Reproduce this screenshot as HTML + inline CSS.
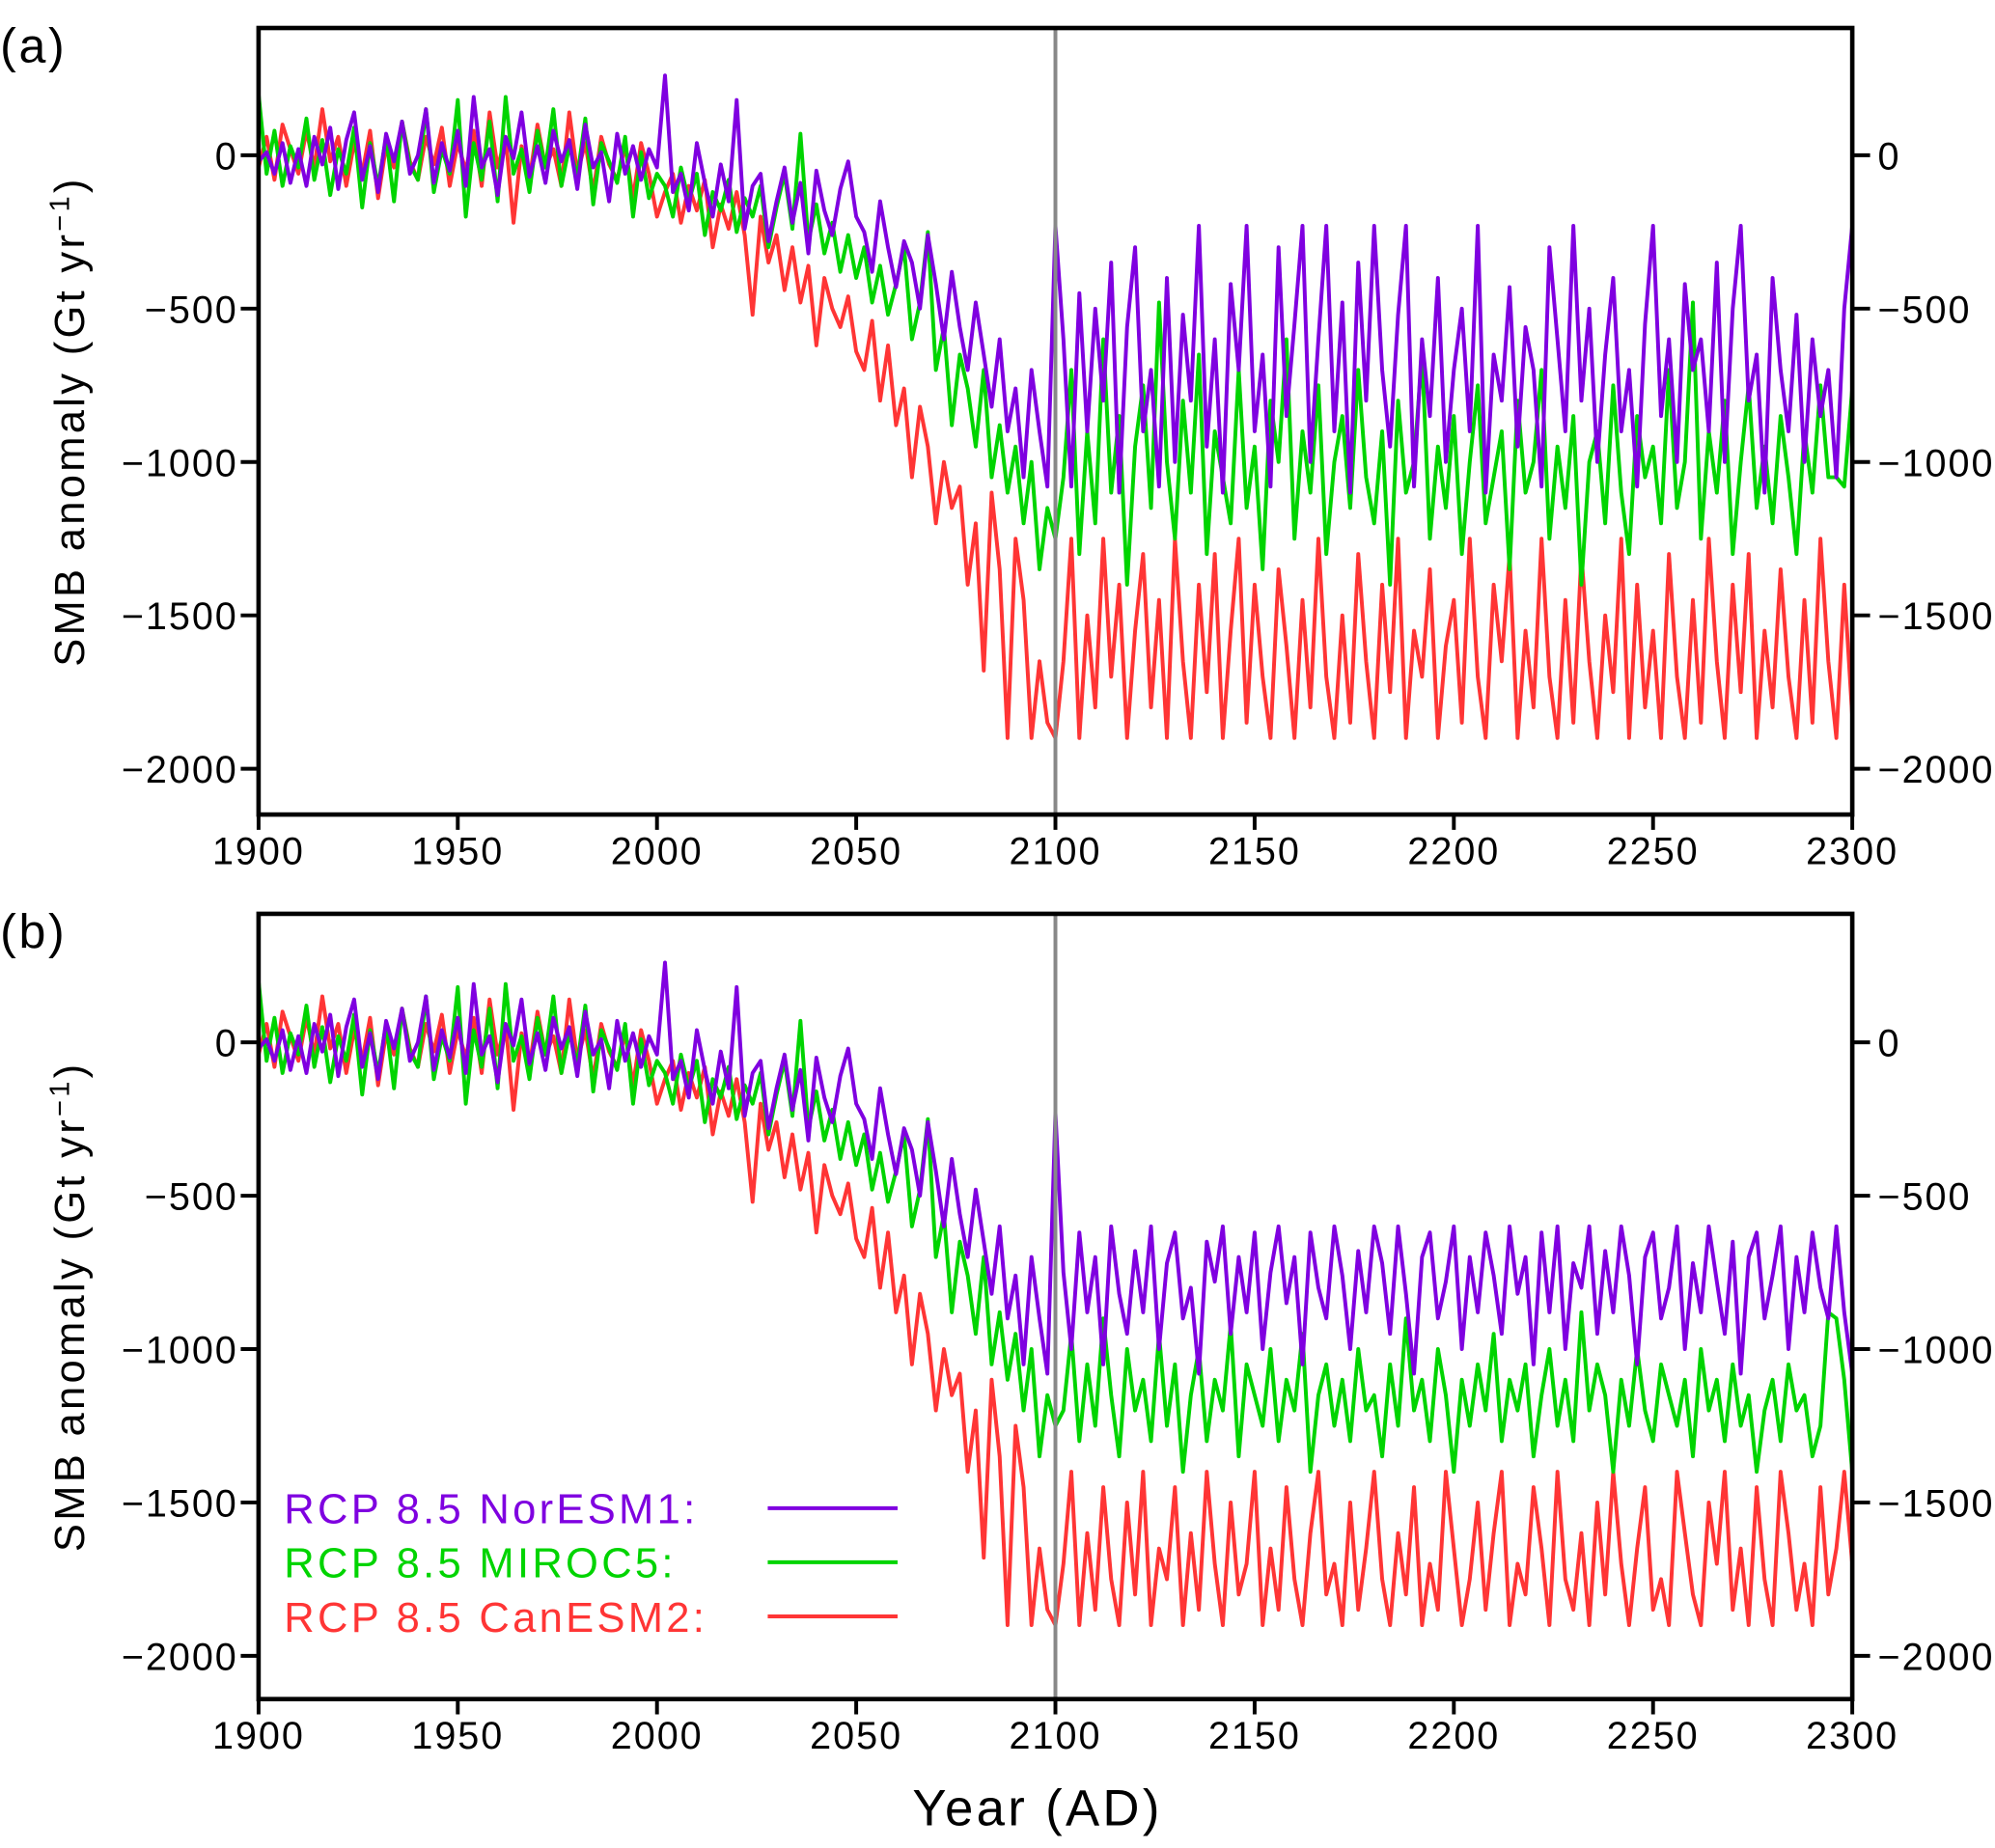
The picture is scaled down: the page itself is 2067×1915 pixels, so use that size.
<!DOCTYPE html>
<html><head><meta charset="utf-8"><style>
html,body{margin:0;padding:0;background:#fff}
svg{display:block}
text{font-family:"Liberation Sans","DejaVu Sans",sans-serif}
</style></head><body>
<svg id="fig" width="2067" height="1915" viewBox="0 0 1567 1452" xmlns="http://www.w3.org/2000/svg"></svg>
<script>
const yearsHistStart = 1900, yearsPostStart = 2102, yearStep = 2;
const xTicks = [1900,1950,2000,2050,2100,2150,2200,2250,2300];
const yTicks = [0,-500,-1000,-1500,-2000];
const seriesNames = ["NorESM1","MIROC5","CanESM2"];
const seriesColors = ["#7f00e0","#00d400","#ff3535"];

const norHist = [-20,10,-60,40,-90,20,-100,60,-30,90,-110,50,140,-80,30,-120,70,-20,110,-60,0,150,-90,40,-50,80,
-100,190,-40,20,-130,60,-10,140,-70,30,-90,80,-20,50,-110,100,-40,10,-150,70,-60,30,-80,20,-40,
260,-120,-60,-180,40,-90,-200,-30,-150,180,-240,-100,-60,-280,-150,-40,-220,-90,-320,-50,-180,-260,-110,-20,-200,
-250,-380,-150,-300,-430,-280,-350,-500,-260,-420,-600,-380,-560,-700,-480,-650,-820,-600,-900,-760,-1050,-700,-900,-1080,-230];
const mirHist = [200,-60,80,-100,30,-40,120,-80,50,-130,20,-60,90,-170,40,-100,60,-150,110,-30,-80,150,-120,20,-60,180,
-200,40,-80,110,-150,190,-60,20,-120,80,-40,150,-100,30,-70,120,-160,40,-20,-90,60,-200,10,-140,-60,
-100,-200,-40,-150,-60,-260,-120,-180,-80,-250,-140,-200,-100,-300,-170,-60,-240,70,-280,-160,-320,-220,-380,-260,-400,
-300,-480,-360,-520,-420,-300,-600,-480,-250,-700,-560,-880,-650,-760,-950,-700,-1050,-880,-1100,-950,-1200,-1000,-1350,-1150,-1250];
const canHist = [-40,60,-80,100,20,-60,80,-40,150,-20,60,-100,40,-60,80,-140,30,-40,110,-20,-80,60,-30,90,-100,40,
-50,80,-100,140,-40,60,-220,30,-80,100,-40,20,-100,140,-60,40,-120,60,-30,-80,30,-140,40,-60,-200,
-120,-60,-220,-100,-180,-80,-300,-160,-240,-120,-260,-520,-200,-350,-260,-440,-300,-480,-360,-620,-400,-500,-560,-460,-640,
-700,-540,-800,-620,-880,-760,-1050,-820,-950,-1200,-1000,-1150,-1080,-1400,-1200,-1680,-1100,-1350,-1900,-1250,-1450,-1900,-1650,-1850,-1900];

const norPostA = [-600,-1080,-450,-900,-500,-800,-350,-1100,-560,-300,
-900,-700,-1080,-400,-1000,-520,-800,-230,-950,-600,
-1100,-420,-700,-230,-900,-650,-1080,-300,-850,-550,
-230,-1000,-600,-230,-900,-480,-1100,-350,-800,-230,
-700,-950,-520,-230,-1080,-600,-850,-400,-1000,-700,
-500,-900,-230,-1100,-650,-800,-430,-950,-560,-700,
-1080,-300,-600,-900,-230,-800,-500,-1000,-650,-400,
-900,-700,-1080,-550,-230,-850,-600,-1000,-420,-700,
-600,-900,-350,-1000,-500,-230,-800,-650,-1100,-400,
-700,-900,-520,-1000,-600,-850,-700,-1050,-500,-230];
const mirPostA = [-1050,-700,-1300,-900,-1200,-600,-1100,-850,-1400,-950,
-750,-1150,-480,-1000,-1250,-800,-1100,-650,-1300,-900,
-1050,-1200,-700,-1150,-950,-1350,-800,-1000,-600,-1250,
-900,-1100,-750,-1300,-1000,-850,-1150,-700,-1050,-1200,
-900,-1400,-800,-1100,-1000,-650,-1250,-950,-1150,-850,
-1300,-1000,-750,-1200,-1050,-900,-1350,-800,-1100,-1000,
-700,-1250,-950,-1150,-850,-1400,-1000,-900,-1200,-750,
-1100,-1300,-850,-1050,-950,-1200,-700,-1150,-1000,-480,
-1250,-900,-1100,-800,-1300,-1000,-750,-1150,-950,-1200,
-850,-1050,-1300,-900,-1100,-750,-1050,-1050,-1080,-760];
const canPostA = [-1650,-1250,-1900,-1500,-1800,-1250,-1700,-1400,-1900,-1550,
-1300,-1800,-1450,-1900,-1250,-1650,-1900,-1400,-1750,-1300,
-1900,-1550,-1250,-1850,-1400,-1700,-1900,-1350,-1600,-1900,
-1450,-1800,-1250,-1700,-1900,-1500,-1850,-1300,-1650,-1900,
-1400,-1750,-1250,-1900,-1550,-1700,-1350,-1900,-1600,-1450,
-1850,-1250,-1700,-1900,-1400,-1650,-1300,-1900,-1550,-1800,
-1250,-1700,-1900,-1450,-1850,-1300,-1650,-1900,-1500,-1750,
-1250,-1900,-1400,-1800,-1550,-1900,-1300,-1700,-1900,-1450,
-1850,-1250,-1650,-1900,-1400,-1750,-1300,-1900,-1550,-1800,
-1350,-1700,-1900,-1450,-1850,-1250,-1650,-1900,-1400,-1830];

const norPostB = [-750,-1000,-620,-880,-700,-1050,-600,-820,-950,-680,
-880,-600,-1000,-720,-620,-900,-800,-1080,-650,-780,
-600,-950,-700,-880,-620,-1000,-750,-600,-850,-700,
-1050,-620,-800,-900,-600,-760,-1000,-680,-880,-600,
-720,-950,-600,-820,-1080,-700,-620,-900,-780,-600,
-1000,-700,-880,-620,-760,-950,-600,-820,-700,-1050,
-620,-880,-600,-1000,-720,-800,-600,-950,-680,-880,
-600,-760,-1050,-700,-620,-900,-800,-600,-1000,-720,
-880,-600,-780,-950,-650,-1080,-700,-620,-900,-760,
-600,-1000,-700,-880,-620,-800,-900,-600,-880,-1080];
const mirPostB = [-1200,-950,-1300,-1050,-1250,-900,-1150,-1350,-1000,-1200,
-1100,-1300,-950,-1250,-1050,-1400,-1150,-1000,-1300,-1100,
-1200,-920,-1350,-1050,-1150,-1250,-1000,-1300,-1100,-1200,
-950,-1400,-1150,-1050,-1250,-1100,-1300,-1000,-1200,-1150,
-1350,-1050,-1250,-900,-1200,-1100,-1300,-1000,-1150,-1400,
-1100,-1250,-1050,-1200,-950,-1300,-1100,-1200,-1050,-1350,
-1150,-1000,-1250,-1100,-1300,-880,-1200,-1050,-1150,-1400,
-1100,-1250,-1000,-1200,-1300,-1050,-1150,-1250,-1100,-1350,
-1000,-1200,-1100,-1300,-1050,-1250,-1150,-1400,-1200,-1100,
-1300,-1050,-1200,-1150,-1350,-1250,-880,-900,-1100,-1400];
const canPostB = [-1700,-1400,-1900,-1600,-1850,-1450,-1750,-1900,-1500,-1800,
-1400,-1900,-1650,-1750,-1450,-1900,-1600,-1850,-1400,-1700,
-1900,-1500,-1800,-1700,-1400,-1900,-1650,-1850,-1450,-1750,
-1900,-1600,-1400,-1800,-1700,-1900,-1500,-1850,-1650,-1400,
-1750,-1900,-1600,-1800,-1450,-1900,-1700,-1850,-1400,-1650,
-1900,-1750,-1500,-1850,-1600,-1400,-1900,-1700,-1800,-1450,
-1650,-1900,-1400,-1750,-1850,-1600,-1900,-1500,-1800,-1400,
-1700,-1900,-1650,-1450,-1850,-1750,-1900,-1400,-1600,-1800,
-1900,-1500,-1700,-1400,-1850,-1650,-1900,-1450,-1750,-1900,
-1400,-1600,-1850,-1700,-1900,-1450,-1800,-1650,-1400,-1700];

const NS = "http://www.w3.org/2000/svg";
const svg = document.getElementById('fig');
function mk(tag, attrs, parent){ const e=document.createElementNS(NS,tag); for(const k in attrs) e.setAttribute(k,attrs[k]); (parent||svg).appendChild(e); return e; }
const X0=203, X1=1455;
const xS = y => X0 + (y-1900)/(400)*(X1-X0);
function fmt(v){ return v<0 ? "\u2212"+(-v) : ""+v; }

const panels = [
 {id:"a", top:22, bot:640, zero:122, posts:[norPostA,mirPostA,canPostA]},
 {id:"b", top:718, bot:1335, zero:819, posts:[norPostB,mirPostB,canPostB]}
];
const hists=[norHist,mirHist,canHist];

panels.forEach(p=>{
  const per=(p.top===22)?(604-122)/2000:(1301-819)/2000;
  const yS=v=>p.zero - v*per;
  const g=mk('g',{});
  
  
  const cp=mk('clipPath',{id:'clip'+p.id},g);
  mk('rect',{x:X0,y:p.top,width:X1-X0,height:p.bot-p.top},cp);
  [2,1,0].forEach(si=>{
    const vals=hists[si], post=p.posts[si];
    let d="";
    vals.forEach((v,i)=>{ d+=(i?"L":"M")+xS(yearsHistStart+i*yearStep).toFixed(1)+","+yS(v).toFixed(1); });
    post.forEach((v,i)=>{ d+="L"+xS(yearsPostStart+i*yearStep).toFixed(1)+","+yS(v).toFixed(1); });
    const path=mk('path',{d:d,fill:'none',stroke:seriesColors[si],'stroke-width':3,'stroke-linejoin':'round','clip-path':'url(#clip'+p.id+')'},g);
    
    
  });
  const vl=mk('line',{x1:xS(2100),x2:xS(2100),y1:p.top,y2:p.bot,stroke:'#888','stroke-width':3},g);
  
  
  const fr=mk('rect',{x:X0,y:p.top,width:X1-X0,height:p.bot-p.top,fill:'none',stroke:'#000','stroke-width':3.5},g);
  
  
  yTicks.forEach(v=>{
    const y=yS(v);
    mk('line',{x1:X0-14,x2:X0,y1:y,y2:y,stroke:'#000','stroke-width':3},g);
    mk('line',{x1:X1,x2:X1+14,y1:y,y2:y,stroke:'#000','stroke-width':3},g);
    const t1=mk('text',{x:X0-16,y:y+11,'text-anchor':'end','font-size':30,'letter-spacing':1.5},g); t1.textContent=fmt(v);
    
    
    const t2=mk('text',{x:X1+20,y:y+11,'text-anchor':'start','font-size':30,'letter-spacing':1.5},g); t2.textContent=fmt(v);
    
    
  });
  xTicks.forEach(v=>{
    const x=xS(v);
    mk('line',{x1:x,x2:x,y1:p.bot,y2:p.bot+12,stroke:'#000','stroke-width':3},g);
    const t=mk('text',{x:x,y:p.bot+39,'text-anchor':'middle','font-size':30,'letter-spacing':1.5},g); t.textContent=v;
    
    
  });
  const pl=mk('text',{x:0,y:p.top+27,'font-size':38,'letter-spacing':2},g); pl.textContent="("+p.id+")";
  
  
  const cy=(p.top+p.bot)/2;
  const yl=mk('text',{x:0,y:0,'text-anchor':'middle','font-size':33,'letter-spacing':2.5,'xml:space':'preserve',transform:'translate(66,'+(cy)+') rotate(-90)'},g);
  yl.innerHTML='SMB  anomaly  (Gt  yr<tspan dy="-12" font-size="22">\u22121</tspan><tspan dy="12">)</tspan>';
  
  
});

const leg=mk('g',{});


["RCP  8.5  NorESM1:","RCP  8.5  MIROC5:","RCP  8.5  CanESM2:"].forEach((s,i)=>{
  const y=1197+i*42.5;
  const t=mk('text',{x:223,y:y,'font-size':33,'letter-spacing':2.5,fill:seriesColors[i],'xml:space':'preserve'},leg); t.textContent=s;
  
  
  const l=mk('line',{x1:603,x2:705,y1:y-12,y2:y-12,stroke:seriesColors[i],'stroke-width':3},leg);
  
  
});
const xt=mk('text',{x:815,y:1434,'text-anchor':'middle','font-size':40,'letter-spacing':2.5});
xt.textContent="Year (AD)";


</script>
</body></html>
